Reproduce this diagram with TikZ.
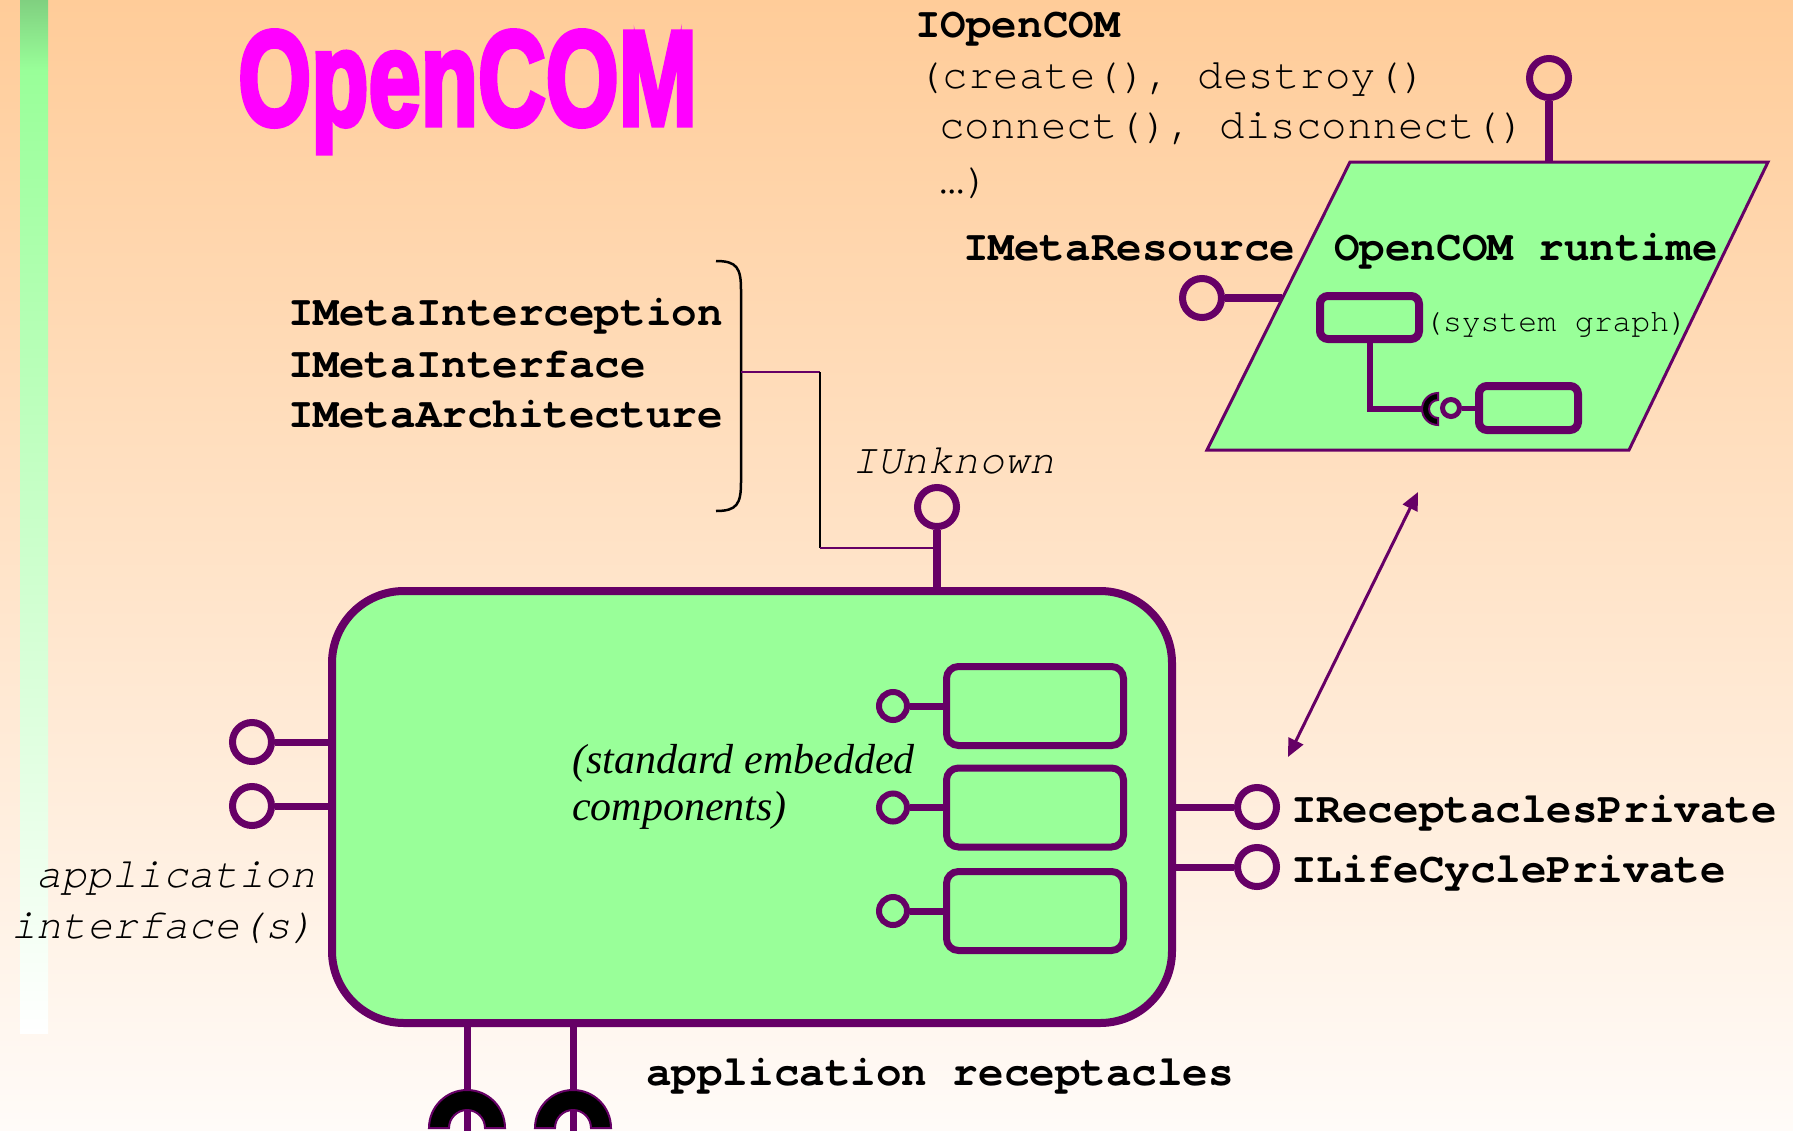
\documentclass[tikz,border=0pt]{standalone}
\usepackage{fontspec}
\setmainfont{Liberation Serif}
\newfontfamily\mono{texgyrecursor}[Extension=.otf, UprightFont=*-regular, BoldFont=*-bold, ItalicFont=*-italic, BoldItalicFont=*-bolditalic]
\newfontfamily\titlefont{Liberation Sans}[BoldFeatures={FakeBold=4}]
\usetikzlibrary{arrows.meta}
\definecolor{pur}{HTML}{660066}
\definecolor{bgtop}{HTML}{FFCC99}
\definecolor{bgbot}{HTML}{FFFBF8}
\definecolor{lgreen}{HTML}{99FF99}
\definecolor{dgreen}{HTML}{80D080}
\definecolor{titlemag}{HTML}{FF00FF}
\tikzset{
  bm/.style={inner sep=0, anchor=base west, font=\fontsize{42.6}{51}\mono\bfseries},
  rm/.style={inner sep=0, anchor=base west, font=\fontsize{42.5}{51}\mono},
  im/.style={inner sep=0, anchor=base west, font=\fontsize{42.3}{51}\mono\itshape},
  sm/.style={inner sep=0, anchor=base west, font=\fontsize{31.4}{36}\mono},
  si/.style={inner sep=0, anchor=base west, font=\fontsize{42}{48}\itshape},
  lolli/.style={circle, draw=pur, line width=7pt, minimum size=39pt, inner sep=0},
  elolli/.style={circle, draw=pur, line width=6pt, minimum size=28pt, inner sep=0},
  slolli/.style={circle, draw=pur, line width=5pt, minimum size=17pt, inner sep=0},
  stem/.style={draw=pur, line width=8pt},
  estem/.style={draw=pur, line width=7pt},
  ebox/.style={draw=pur, fill=lgreen, line width=7pt, rounded corners=12pt, minimum width=177pt, minimum height=79pt, inner sep=0},
  sbox/.style={draw=pur, fill=lgreen, line width=8pt, rounded corners=8pt, minimum width=99pt, minimum height=43pt, inner sep=0},
  recep/.style={fill=black, draw=pur, line width=2pt},
}
\begin{document}
\begin{tikzpicture}[x=1pt,y=-1pt]
\useasboundingbox (0,0) rectangle (1793,1130);
% background
\shade[top color=bgtop, bottom color=bgbot] (0,0) rectangle (1793,1130);
% left bar
\shade[top color=dgreen, bottom color=lgreen] (20,0) rectangle (48,70.5);
\shade[top color=lgreen, bottom color=white] (20,70) rectangle (48,1033);
% title
\node[anchor=base west, inner sep=0, text=titlemag] (title) at (238,125)
  {\scalebox{0.695}[1]{\fontsize{135}{135}\titlefont\bfseries OpenCOM}};

% IOpenCOM text
\node[bm] (tIOpen) at (915,37) {IOpenCOM};
\node[rm] (tl1) at (917,88) {(create(), destroy()};
\node[rm] (tl2) at (939,138) {connect(), disconnect()};
\node[rm] (tl3) at (939,193) {…)};

% runtime parallelogram
\coordinate (pTL) at (1350,162);
\coordinate (pTR) at (1768,162);
\coordinate (pBR) at (1629,450);
\coordinate (pBL) at (1207,450);
\fill[lgreen] (pTL) -- (pTR) -- (pBR) -- (pBL) -- cycle;
\node[lolli] (cOpen) at (1549,78) {};
\draw[stem] (cOpen.south) -- (cOpen |- pTL);
\node[lolli] (cRes) at (1202,298) {};
\coordinate (resEnd) at (1282,298);
\draw[stem] (cRes.east) -- (resEnd);
\draw[pur, line width=3pt, line join=miter] (pTL) -- (pTR) -- (pBR) -- (pBL) -- cycle;
\node[bm] (tRes) at (963,260) {IMetaResource};
\node[bm] (tRun) at (1334,260) {OpenCOM runtime};
\node[sbox] (sb1) at (1369.5,317.5) {};
\node[sm] (tSys) at (1424,331) {(system graph)};
\node[sbox, minimum height=44pt] (sb2) at (1528.5,408) {};
\node[slolli] (sc) at (1451,408) {};
\draw[pur, line width=5pt] (sc.east) -- (sb2.west);
\coordinate (sockc) at (1438,409);
\coordinate (sockL) at (1424,409);
\draw[pur, line width=6pt] (sb1.south) |- (sockL);
\filldraw[recep] (sockc) ++(0,16) arc (90:270:16) -- ++(0,7) arc (270:90:9) -- cycle;

% brace + meta interfaces
\node[bm] (tM1) at (288,325) {IMetaInterception};
\node[bm] (tM2) at (288,377) {IMetaInterface};
\node[bm] (tM3) at (288,427) {IMetaArchitecture};
\draw[black, line width=2.5pt] (716,261) .. controls (737,261) and (741,268) .. (741,290)
  -- (741,482) .. controls (741,504) and (737,511) .. (716,511);
\coordinate (brk) at (741,372);
\coordinate (k1) at (820,372);
\coordinate (k2) at (820,548);

% main component
\node[draw=pur, fill=lgreen, line width=8pt, rounded corners=72pt, minimum width=840pt, minimum height=432pt, inner sep=0] (main) at (752,807) {};
\node[lolli] (cUnk) at (937,507) {};
\draw[stem] (cUnk.south) -- (cUnk |- main.north);
\draw[pur, line width=2pt] (brk) -- (k1);
\draw[black, line width=2.5pt] (k1) -- (k2);
\draw[pur, line width=2pt] (k2) -- (cUnk |- k2);
\node[im] (tUnk) at (852,473) {IUnknown};

% left interfaces
\node[lolli] (cL1) at (252,742) {};
\node[lolli] (cL2) at (252,806) {};
\draw[estem] (cL1.east) -- (cL1 -| main.west);
\draw[estem] (cL2.east) -- (cL2 -| main.west);
\node[im] (tApp1) at (36,887) {application};
\node[im] (tApp2) at (11,938) {interface(s)};

% right interfaces
\node[lolli] (cR1) at (1257,807) {};
\node[lolli] (cR2) at (1257,867) {};
\draw[estem] (cR1.west) -- (cR1 -| main.east);
\draw[estem] (cR2.west) -- (cR2 -| main.east);
\node[bm] (tR1) at (1291,822) {IReceptaclesPrivate};
\node[bm] (tR2) at (1291,882) {ILifeCyclePrivate};

% embedded components
\node[ebox] (eb1) at (1035,706) {};
\node[ebox] (eb2) at (1035,807.5) {};
\node[ebox] (eb3) at (1035,911) {};
\node[elolli] (ec1) at (893,706) {};
\node[elolli] (ec2) at (893,807.5) {};
\node[elolli] (ec3) at (893,911) {};
\draw[estem] (ec1.east) -- (eb1.west);
\draw[estem] (ec2.east) -- (eb2.west);
\draw[estem] (ec3.east) -- (eb3.west);
\node[si] (tStd1) at (572,773) {(standard embedded};
\node[si] (tStd2) at (572,820) {components)};

% double arrow
\coordinate (arrA) at (1288,757);
\coordinate (arrB) at (1418,492);
\draw[pur, line width=3pt, {Triangle[length=18pt,width=16pt]}-{Triangle[length=18pt,width=16pt]}] (arrA) -- (arrB);

% receptacles
\coordinate (rc1) at (467,1128);
\coordinate (rc2) at (573,1128);
\draw[estem] (rc1 |- main.south) -- ([yshift=-38pt]rc1);
\draw[estem] (rc2 |- main.south) -- ([yshift=-38pt]rc2);
\filldraw[recep] (rc1) ++(38,0) arc (0:-180:38) -- ++(20,0) arc (-180:0:18) -- cycle;
\filldraw[recep] (rc2) ++(38,0) arc (0:-180:38) -- ++(20,0) arc (-180:0:18) -- cycle;
\node[bm] (tRec) at (646,1085) {application receptacles};
\end{tikzpicture}
\end{document}
